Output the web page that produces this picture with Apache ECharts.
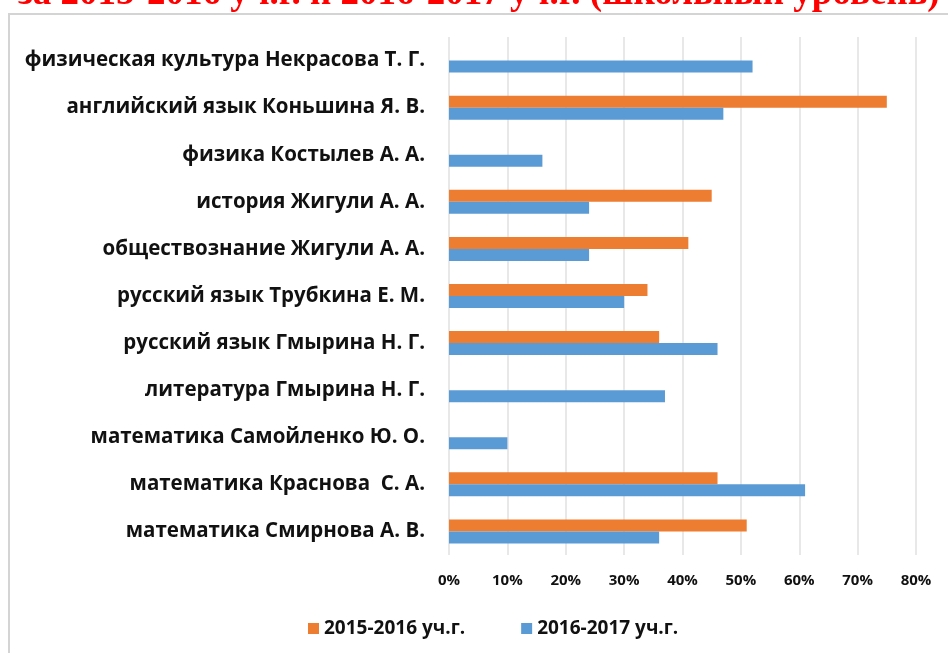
<!DOCTYPE html>
<html>
<head>
<meta charset="utf-8">
<script src="https://cdn.jsdelivr.net/npm/echarts@6/dist/echarts.min.js"></script>
<style>
html,body{margin:0;padding:0;background:#fff;}
#chart{width:948px;height:653px;}
</style>
</head>
<body>
<div id="chart"></div>
<script>
// categories listed bottom to top (ECharts category y-axis starts at bottom)
const categories = [
  "математика Смирнова А. В.",
  "математика Краснова  С. А.",
  "математика Самойленко Ю. О.",
  "литература Гмырина Н. Г.",
  "русский язык Гмырина Н. Г.",
  "русский язык Трубкина Е. М.",
  "обществознание Жигули А. А.",
  "история Жигули А. А.",
  "физика Костылев А. А.",
  "английский язык Коньшина Я. В.",
  "физическая культура Некрасова Т. Г."
];
const series2015 = [51, 46, null, null, 36, 34, 41, 45, null, 75, null];
const series2016 = [36, 61, 10, 37, 46, 30, 24, 24, 16, 47, 52];
const seriesNames = ["2015-2016 уч.г.", "2016-2017 уч.г."];
const xTicks = [0, 10, 20, 30, 40, 50, 60, 70, 80];
const titleText = "за 2015-2016 уч.г. и 2016-2017 уч.г. (школьный уровень)";

const chart = echarts.init(document.getElementById('chart'), null, {renderer: 'canvas'});
const labelFont = "'Open Sans', 'Noto Sans', sans-serif";
chart.setOption({
  animation: false,
  backgroundColor: '#fff',
  graphic: [
    {type: 'rect', shape: {x: 9, y: 14, width: 960, height: 700},
     style: {fill: 'none', stroke: '#d4d4d4', lineWidth: 2}, z: 0},
    {type: 'text', x: 18, y: 13,
     style: {text: titleText, fill: '#ff0000', font: "bold 37px 'Liberation Serif', serif",
             verticalAlign: 'bottom', align: 'left'}, z: 10}
  ],
  grid: {left: 449, right: 32, top: 37, bottom: 98, containLabel: false},
  legend: {
    bottom: 10, left: 303,
    itemWidth: 11, itemHeight: 11, itemGap: 56,
    icon: 'rect',
    data: seriesNames,
    textStyle: {fontFamily: labelFont, fontWeight: 'bold', fontSize: 19, color: '#111'}
  },
  xAxis: {
    type: 'value', min: 0, max: 80, interval: 10,
    axisLine: {show: false}, axisTick: {show: false},
    splitLine: {show: true, lineStyle: {color: '#e0e0e0', width: 1.5}},
    axisLabel: {formatter: v => xTicks.includes(v) ? v + '%' : '', margin: 18,
                fontFamily: labelFont, fontWeight: 'bold', fontSize: 15, color: '#111'}
  },
  yAxis: {
    type: 'category', data: categories,
    axisLine: {show: false}, axisTick: {show: false},
    axisLabel: {margin: 24, fontFamily: labelFont, fontWeight: 'bold', fontSize: 20.5, color: '#111'}
  },
  series: [
    {name: seriesNames[0], type: 'bar', data: series2015, barWidth: 12, barGap: '0%',
     itemStyle: {color: '#ED7D31'}},
    {name: seriesNames[1], type: 'bar', data: series2016, barWidth: 12, barGap: '0%',
     itemStyle: {color: '#5B9BD5'}}
  ]
});
</script>
</body>
</html>
